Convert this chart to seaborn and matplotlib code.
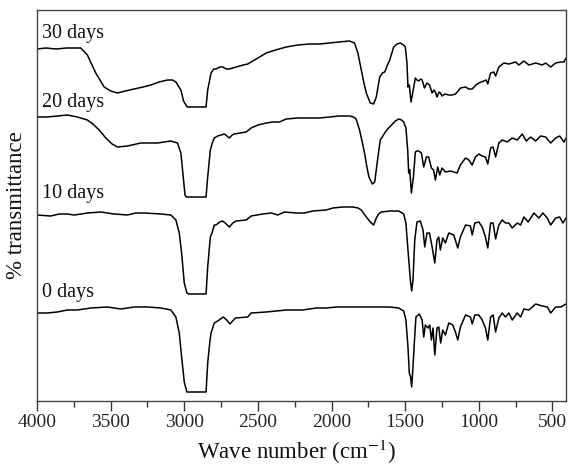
import matplotlib
matplotlib.use("Agg")
import matplotlib.pyplot as plt
from matplotlib.ticker import MultipleLocator
import seaborn as sns
import pandas as pd

# ---------------- data ----------------
labels = ["30 days", "20 days", "10 days", "0 days"]

w30 = [4000, 3940, 3870, 3800, 3703, 3658, 3601, 3544, 3500, 3454, 3400, 3340, 3280, 3227, 3170, 3114, 3080, 3057, 3023, 3005,
       2988, 2980, 2900, 2852, 2841, 2818, 2800, 2784, 2760, 2739, 2715, 2694, 2670, 2648, 2600, 2569, 2546, 2500, 2444, 2380,
       2308, 2230, 2150, 2080, 2014, 1950, 1878, 1844, 1821, 1798, 1780, 1764, 1737, 1714, 1696, 1673, 1655, 1639, 1620, 1605,
       1578, 1555, 1533, 1512, 1499, 1488, 1481, 1472, 1460, 1449, 1431, 1420, 1408, 1395, 1385, 1369, 1352, 1335, 1317, 1305,
       1295, 1284, 1270, 1261, 1250, 1230, 1204, 1180, 1159, 1140, 1125, 1090, 1068, 1045, 1020, 1000, 966, 950, 939, 920,
       898, 886, 864, 830, 796, 750, 728, 694, 660, 614, 569, 546, 512, 478, 444, 422, 408]
t30 = [352, 353, 352, 353, 353, 346, 328, 314, 310, 308, 310, 312, 314, 316, 319, 321, 321, 319, 311, 300,
       296, 294, 294, 294, 311, 328, 332, 332, 334, 334, 332, 332, 333, 334, 336, 337, 339, 343, 348, 351,
       354, 356, 357, 357, 358, 359, 360, 358, 348, 331, 318, 308, 298, 297, 304, 324, 328, 329, 336, 341,
       354, 357, 358, 356, 354, 338, 314, 316, 299, 308, 323, 321, 320, 322, 321, 313, 318, 316, 308, 311,
       309, 304, 309, 308, 305, 307, 306, 306, 307, 310, 313, 314, 312, 312, 316, 318, 320, 321, 317, 328,
       329, 325, 334, 338, 337, 339, 336, 340, 336, 338, 336, 338, 334, 338, 339, 339, 343]

w20 = [4000, 3932, 3862, 3794, 3726, 3658, 3620, 3578, 3533, 3490, 3454, 3386, 3295, 3181, 3091, 3046, 3023, 3007, 2995, 2986,
       2900, 2852, 2841, 2823, 2810, 2796, 2773, 2750, 2728, 2710, 2694, 2675, 2660, 2620, 2580, 2546, 2500, 2444, 2400, 2354,
       2308, 2230, 2150, 2080, 2014, 1950, 1878, 1850, 1833, 1810, 1790, 1776, 1760, 1746, 1723, 1707, 1685, 1669, 1639, 1620,
       1605, 1580, 1567, 1544, 1525, 1510, 1495, 1483, 1476, 1469, 1458, 1444, 1431, 1420, 1408, 1390, 1374, 1356, 1340, 1322,
       1307, 1295, 1279, 1265, 1250, 1227, 1193, 1170, 1148, 1125, 1090, 1068, 1045, 1023, 1000, 977, 955, 939, 920, 903,
       886, 864, 841, 807, 773, 739, 705, 678, 648, 614, 580, 546, 512, 478, 451, 422, 408]
t20 = [284, 284, 285, 286, 284, 281, 277, 271, 263, 257, 254, 255, 258, 258, 260, 258, 248, 224, 206, 204,
       204, 204, 224, 251, 258, 263, 265, 266, 267, 265, 263, 266, 267, 268, 269, 273, 276, 278, 279, 279,
       282, 283, 283, 283, 284, 285, 285, 284, 282, 271, 258, 248, 234, 224, 217, 219, 244, 261, 268, 272,
       274, 278, 280, 282, 281, 279, 273, 251, 228, 231, 208, 224, 249, 250, 250, 248, 234, 244, 244, 233,
       231, 221, 234, 226, 233, 229, 230, 229, 228, 236, 243, 241, 236, 244, 247, 245, 244, 237, 253, 254,
       244, 258, 261, 259, 263, 261, 267, 260, 264, 260, 265, 264, 258, 263, 265, 259, 263]

w10 = [4000, 3907, 3850, 3794, 3748, 3700, 3658, 3567, 3476, 3386, 3330, 3272, 3159, 3091, 3057, 3034, 3018, 3000, 2982, 2970,
       2900, 2852, 2841, 2823, 2812, 2796, 2784, 2760, 2739, 2715, 2694, 2670, 2648, 2580, 2546, 2467, 2410, 2365, 2320, 2240,
       2184, 2127, 2036, 1991, 1923, 1855, 1820, 1798, 1764, 1730, 1714, 1696, 1680, 1662, 1605, 1544, 1510, 1495, 1481, 1465,
       1456, 1447, 1435, 1420, 1397, 1379, 1367, 1352, 1335, 1317, 1299, 1284, 1272, 1261, 1245, 1227, 1204, 1170, 1143, 1125,
       1090, 1057, 1045, 1027, 1000, 977, 955, 939, 920, 903, 886, 864, 841, 819, 796, 773, 739, 716, 694, 665,
       626, 592, 565, 535, 512, 478, 451, 429, 408]
t10 = [186, 185, 187, 187, 186, 187, 188, 189, 187, 186, 188, 188, 187, 186, 181, 168, 148, 118, 108, 107,
       107, 107, 134, 164, 168, 176, 176, 179, 180, 177, 174, 178, 180, 181, 185, 187, 188, 186, 189, 188,
       188, 190, 191, 193, 194, 194, 193, 191, 184, 178, 176, 183, 187, 189, 190, 190, 187, 178, 151, 121,
       110, 121, 161, 179, 180, 171, 154, 168, 168, 154, 138, 161, 164, 151, 163, 158, 168, 166, 153, 164,
       176, 175, 166, 178, 179, 174, 164, 153, 178, 178, 162, 176, 181, 178, 178, 173, 178, 176, 184, 179,
       188, 183, 188, 183, 176, 183, 184, 178, 183]

w0 = [4000, 3932, 3862, 3794, 3726, 3635, 3522, 3431, 3340, 3250, 3159, 3091, 3057, 3034, 3018, 3000, 2982, 2970, 2900, 2852,
      2841, 2825, 2818, 2796, 2773, 2735, 2712, 2690, 2653, 2569, 2546, 2444, 2308, 2195, 2104, 2036, 1968, 1878, 1787, 1696,
      1605, 1544, 1510, 1495, 1481, 1472, 1463, 1456, 1447, 1438, 1427, 1404, 1385, 1374, 1363, 1345, 1333, 1322, 1311, 1299,
      1284, 1272, 1259, 1245, 1227, 1204, 1177, 1159, 1143, 1125, 1090, 1057, 1045, 1027, 1000, 977, 955, 939, 920, 903,
      886, 864, 841, 819, 796, 773, 739, 716, 694, 660, 614, 569, 535, 512, 478, 444, 408]
t0 = [88, 88, 89, 91, 91, 93, 94, 92, 94, 94, 93, 91, 84, 68, 44, 19, 9, 9, 9, 9,
      38, 61, 68, 78, 80, 84, 81, 77, 83, 84, 88, 89, 91, 91, 93, 93, 94, 94, 94, 94,
      94, 93, 90, 81, 54, 28, 24, 14, 34, 58, 84, 87, 81, 64, 76, 73, 76, 61, 73, 46,
      73, 74, 58, 71, 66, 78, 76, 69, 61, 74, 86, 84, 77, 86, 86, 81, 73, 61, 84, 86,
      69, 83, 88, 84, 88, 81, 88, 84, 92, 91, 97, 95, 94, 88, 94, 94, 97]

label_y = [363, 294, 203, 104]
xticks = [4000, 3500, 3000, 2500, 2000, 1500, 1000, 500]

# ---------------- build table ----------------
frames = []
for lab, w, t in zip(labels, [w30, w20, w10, w0], [t30, t20, t10, t0]):
    frames.append(pd.DataFrame({"wavenumber": w, "T": t, "sample": lab}))
df = pd.concat(frames, ignore_index=True)

# ---------------- style ----------------
sns.set_theme(style="white")
plt.rcParams["font.family"] = ["Liberation Serif", "DejaVu Serif"]
plt.rcParams["mathtext.fontset"] = "stix"

fig = plt.figure(figsize=(5.69, 4.65), dpi=100)
W, H = 569, 465
L, R, T, B = 37, 566, 10, 401
ax = fig.add_axes([L / W, (H - B) / H, (R - L) / W, (B - T) / H])

sns.lineplot(data=df, x="wavenumber", y="T", units="sample", estimator=None,
             color="black", linewidth=1.1, ax=ax, legend=False)

ax.set_xlim(4000, 408)
ax.set_ylim(0, 391)
ax.set_xticks(xticks)
ax.set_xticklabels([str(v) for v in xticks])
ax.xaxis.set_minor_locator(MultipleLocator(250))
ax.set_yticks([])
ax.tick_params(axis="x", which="major", direction="out", length=7, width=1,
               color="#333333", labelsize=14, pad=2, bottom=True)
ax.tick_params(axis="x", which="minor", direction="out", length=4, width=1,
               color="#333333", bottom=True)
for s in ax.spines.values():
    s.set_color("#444444")
    s.set_linewidth(1.0)

for lab, y in zip(labels, label_y):
    ax.text(3964, y, lab, fontsize=14.5, ha="left", va="baseline", color="#111111")

ax.set_xlabel(r"Wave number (cm$^{-1}$)", fontsize=16.5, color="#111111")
ax.set_ylabel("% transmittance", fontsize=16.5, color="#111111")
ax.xaxis.set_label_coords((297 - L) / (R - L), (B - 438) / (B - T))
ax.xaxis.label.set_va("top")
ax.yaxis.set_label_coords((27 - L) / (R - L), 0.5)

fig.savefig("out.png", dpi=100)
